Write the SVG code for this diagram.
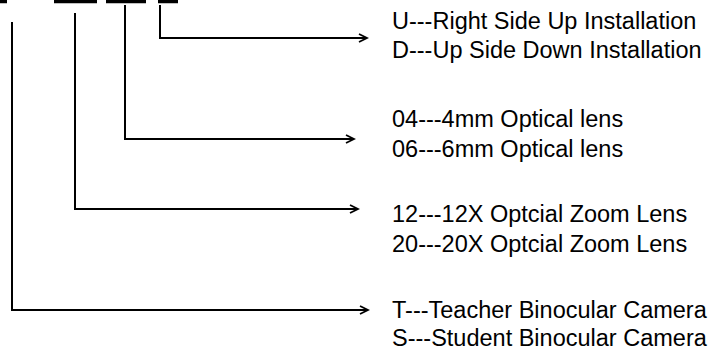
<svg xmlns="http://www.w3.org/2000/svg" width="719" height="352" viewBox="0 0 719 352">
<defs>
<marker id="ah" markerWidth="12" markerHeight="10" refX="10" refY="5" orient="auto" markerUnits="userSpaceOnUse">
<path d="M2,1 L10,5 L2,9" fill="none" stroke="#000" stroke-width="1.8"/>
</marker>
</defs>
<style>
.t{font-family:"Liberation Sans",Arial,sans-serif;font-size:23.5px;fill:#000}
.c{fill:none;stroke:#000;stroke-width:2}
.bar{fill:none;stroke:#000;stroke-width:3.5}
</style>
<rect width="719" height="352" fill="#fff"/>
<g id="bars">
<line class="bar" x1="0" y1="1.5" x2="7" y2="1.5"/>
<line class="bar" x1="54" y1="1.5" x2="97" y2="1.5"/>
<line class="bar" x1="106" y1="1.5" x2="146" y2="1.5"/>
<line class="bar" x1="158" y1="1.5" x2="178" y2="1.5"/>
</g>
<g id="connectors">
<path class="c" d="M160,5 V38 H367" marker-end="url(#ah)"/>
<path class="c" d="M125,5 V139 H354" marker-end="url(#ah)"/>
<path class="c" d="M75,13 V209 H358" marker-end="url(#ah)"/>
<path class="c" d="M12,22 V310 H368" marker-end="url(#ah)"/>
</g>
<g id="node-install">
<text class="t" x="392" y="29">U---Right Side Up Installation</text>
<text class="t" x="392" y="58">D---Up Side Down Installation</text>
</g>
<g id="node-lens">
<text class="t" x="392" y="127">04---4mm Optical lens</text>
<text class="t" x="392" y="157">06---6mm Optical lens</text>
</g>
<g id="node-zoom">
<text class="t" x="392" y="222">12---12X Optcial Zoom Lens</text>
<text class="t" x="392" y="252">20---20X Optcial Zoom Lens</text>
</g>
<g id="node-camera">
<text class="t" x="392" y="318">T---Teacher Binocular Camera</text>
<text class="t" x="392" y="346">S---Student Binocular Camera</text>
</g>
</svg>
